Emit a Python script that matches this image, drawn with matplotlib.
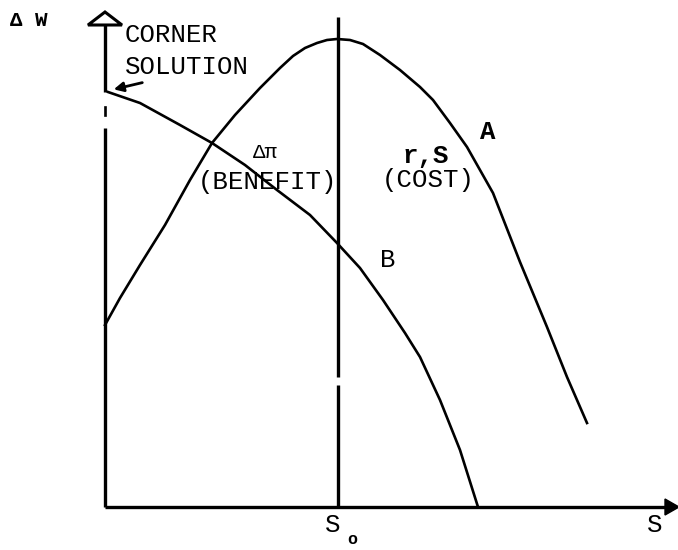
import matplotlib.pyplot as plt
from matplotlib.patches import Polygon

# axes units: S to the right of the origin, dW above it (origin at the corner of the axes)
# curve A  (r,S : cost)
s_a = [0, 15, 35, 60, 85, 107, 130, 155, 175, 188, 200, 212, 222, 232, 245, 258, 275,
       295, 315, 328, 345, 362, 375, 388, 415, 442, 462, 482]
w_a = [182, 209, 242, 282, 327, 364, 392, 419, 439, 451, 459, 464, 467, 468, 467, 463, 452,
       437, 420, 407, 384, 360, 337, 314, 245, 180, 130, 84]

# curve B  (delta pi : benefit)
s_b = [3, 35, 75, 107, 140, 172, 205, 232, 255, 278, 300, 315, 335, 355, 373]
w_b = [415, 404, 382, 364, 342, 317, 292, 264, 239, 207, 174, 150, 107, 57, 0]

s_zero = 233

plt.rcParams['font.family'] = ['Liberation Mono', 'DejaVu Sans']

fig = plt.figure(figsize=(6.78, 5.5), dpi=100)
ax = fig.add_axes([0, 0, 1, 1])
ax.set_xlim(-105, 573)
ax.set_ylim(-43, 507)
ax.axis('off')

lw_ax = 2.4
lw_c = 1.9

# axes
ax.plot([0, 0], [0, 379], color='black', lw=lw_ax, solid_capstyle='butt')
ax.plot([0, 0], [415, 482], color='black', lw=lw_ax, solid_capstyle='butt')
ax.plot([0, 0], [392, 400], color='black', lw=lw_ax * 0.8)
ax.plot([0, 562], [0, 0], color='black', lw=lw_ax, solid_capstyle='butt')
ax.add_patch(Polygon([[-17, 482], [17, 482], [0, 495]], closed=True,
                     facecolor='white', edgecolor='black', lw=2.2))
ax.add_patch(Polygon([[560, -8], [560, 8], [574, 0]], closed=True,
                     facecolor='black', edgecolor='black', lw=1))

# S0 line
ax.plot([s_zero, s_zero], [0, 122], color='black', lw=lw_ax, solid_capstyle='butt')
ax.plot([s_zero, s_zero], [130, 490], color='black', lw=lw_ax, solid_capstyle='butt')

# curves
ax.plot(s_a, w_a, color='black', lw=lw_c)
ax.plot(s_b, w_b, color='black', lw=lw_c)

fs = 18.5
ax.text(-95, 487, 'Δ W', fontsize=15, fontweight='bold', ha='left', va='center')
ax.text(20, 472, 'CORNER', fontsize=fs, ha='left', va='center')
ax.text(20, 440, 'SOLUTION', fontsize=fs, ha='left', va='center')
ax.annotate('', xy=(6, 417), xytext=(40, 425),
            arrowprops=dict(arrowstyle='-|>', color='black', lw=2, mutation_scale=14))
ax.text(160, 354, 'Δπ', fontsize=15, ha='center', va='center')
ax.text(162, 325, '(BENEFIT)', fontsize=fs, ha='center', va='center')
ax.text(321, 351, 'r,S', fontsize=fs, fontweight='bold', ha='center', va='center')
ax.text(323, 327, '(COST)', fontsize=fs, ha='center', va='center')
ax.text(383, 375, 'A', fontsize=fs, fontweight='bold', ha='center', va='center')
ax.text(283, 247, 'B', fontsize=fs, ha='center', va='center')
ax.text(228, -18, 'S', fontsize=fs, ha='center', va='center')
ax.text(247, -33, 'o', fontsize=12, fontweight='bold', ha='center', va='center')
ax.text(550, -18, 'S', fontsize=fs, ha='center', va='center')

fig.savefig('out.png', dpi=100, facecolor='white')
